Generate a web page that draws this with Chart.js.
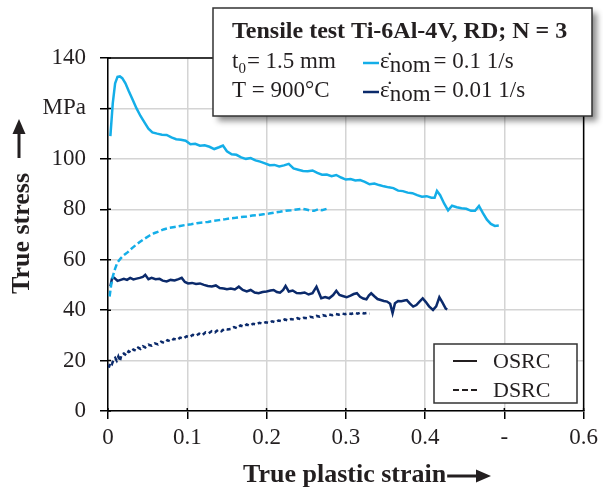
<!DOCTYPE html>
<html>
<head>
<meta charset="utf-8">
<script src="https://cdn.jsdelivr.net/npm/chart.js@4/dist/chart.umd.min.js"></script>
<style>
html,body{margin:0;padding:0;background:#fff;}
#c{display:block;}
</style>
</head>
<body>
<canvas id="c" width="603" height="490"></canvas>
<script>
// ---- data (strain, true stress MPa) ----
const xTickLabels = ['0', '0.1', '0.2', '0.3', '0.4', '-', '0.6'];
const yTickLabels = ['0', '20', '40', '60', '80', '100', 'MPa', '140'];

const fastOSRC = [[0.003,109],[0.006,122],[0.009,130],[0.012,132.5],[0.015,132.7],[0.018,132],[0.022,130],[0.026,127],[0.031,123.5],[0.036,120],[0.041,117],[0.046,114.5],[0.051,112],[0.056,110.5],[0.062,110],[0.068,109.6],[0.074,109.5],[0.080,108.5],[0.086,107.8],[0.092,107.6],[0.098,107.2],[0.104,105.8],[0.110,106],[0.116,105.2],[0.122,105.4],[0.128,104.8],[0.134,103.9],[0.140,104.6],[0.145,105.3],[0.150,103],[0.156,101.8],[0.162,101.6],[0.168,100.6],[0.174,100],[0.180,100.3],[0.186,99.4],[0.192,98.9],[0.198,98.2],[0.204,97.5],[0.210,97.6],[0.216,97],[0.222,97.4],[0.228,98],[0.234,96.2],[0.240,95.7],[0.246,95.2],[0.252,95.1],[0.258,95.4],[0.264,94.4],[0.270,93.7],[0.276,93.8],[0.282,93.1],[0.288,93.6],[0.294,92.6],[0.300,91.8],[0.306,92],[0.312,91.4],[0.318,91.6],[0.324,90.9],[0.330,89.9],[0.336,90.2],[0.342,89.6],[0.348,89.1],[0.354,88.7],[0.360,88.4],[0.366,87.4],[0.372,87.2],[0.378,86.6],[0.384,86.4],[0.390,85.6],[0.396,85],[0.402,85.2],[0.408,84.6],[0.412,84.6],[0.415,87.3],[0.419,85.6],[0.424,82.3],[0.429,79.6],[0.434,81.4],[0.440,80.8],[0.446,80.4],[0.452,80.2],[0.458,79.4],[0.463,79.4],[0.468,81.3],[0.473,78.5],[0.478,75.9],[0.483,74.2],[0.488,73.4],[0.493,73.6]];

const fastDSRC = [[0.002,45.4],[0.004,50],[0.006,53.3],[0.009,56.5],[0.012,59],[0.016,60.5],[0.020,61.8],[0.025,63],[0.030,64.5],[0.035,65.8],[0.040,67],[0.046,68.3],[0.052,69.5],[0.058,70.5],[0.064,71.2],[0.070,72],[0.077,72.6],[0.084,73],[0.091,73.4],[0.098,73.8],[0.105,74.1],[0.112,74.5],[0.119,74.8],[0.126,75],[0.133,75.4],[0.140,75.7],[0.147,76],[0.154,76.4],[0.161,76.6],[0.168,76.9],[0.175,77.1],[0.182,77.5],[0.189,77.7],[0.196,78],[0.203,78.3],[0.210,78.7],[0.217,79],[0.224,79.4],[0.231,79.6],[0.238,79.9],[0.245,80.2],[0.250,79.9],[0.255,79.5],[0.260,79.4],[0.265,80],[0.270,79.6],[0.276,80.2]];

const slowOSRC = [[0.003,49.5],[0.005,52.5],[0.008,52.8],[0.012,51.6],[0.016,52],[0.020,52.4],[0.024,52],[0.028,52.8],[0.032,52.2],[0.036,52.5],[0.040,52.8],[0.044,53.2],[0.047,54],[0.051,52.3],[0.055,52.8],[0.060,52.3],[0.065,52.4],[0.069,51.7],[0.074,51.4],[0.079,52],[0.084,51.8],[0.089,52.3],[0.093,52.8],[0.097,51.2],[0.101,50.6],[0.106,50.8],[0.111,50.4],[0.116,50.6],[0.121,50],[0.126,49.6],[0.131,49.4],[0.136,49.8],[0.141,48.8],[0.146,48.6],[0.150,48.3],[0.155,48.6],[0.160,48.2],[0.165,49.3],[0.170,48],[0.175,47.4],[0.180,48],[0.185,47],[0.190,46.7],[0.195,47.2],[0.200,47.4],[0.205,47.8],[0.209,48],[0.213,47.2],[0.217,46.9],[0.221,48],[0.224,49.6],[0.228,47.4],[0.233,47.8],[0.238,46.8],[0.243,46.7],[0.248,47],[0.253,46.2],[0.258,46.7],[0.263,49.3],[0.266,47],[0.269,44.7],[0.274,45.2],[0.279,44.7],[0.284,46],[0.288,47.7],[0.292,46],[0.296,45.6],[0.301,45.1],[0.306,45.8],[0.310,46.4],[0.314,46.7],[0.318,45.3],[0.322,44.6],[0.326,44.3],[0.329,45.8],[0.332,46.7],[0.336,45.5],[0.340,44.4],[0.344,44],[0.348,43.6],[0.352,43.4],[0.356,42.5],[0.359,38.8],[0.362,42.7],[0.366,43.6],[0.370,43.5],[0.374,43.8],[0.377,44],[0.381,42.6],[0.385,41.4],[0.389,42],[0.393,43.4],[0.397,44.7],[0.401,43.2],[0.405,41.5],[0.410,40.1],[0.414,41.5],[0.418,45.1],[0.422,43],[0.426,40.6],[0.428,40.3]];

const slowDSRC = [[0.001,17.2],[0.003,19.2],[0.005,18.6],[0.007,20.4],[0.009,21.1],[0.011,20],[0.013,21.6],[0.015,19.8],[0.017,22.3],[0.020,22.8],[0.023,22.1],[0.026,23.7],[0.029,23.2],[0.032,24.4],[0.035,23.9],[0.038,25.1],[0.041,24.6],[0.044,25.7],[0.047,25.2],[0.051,26.3],[0.055,25.9],[0.059,26.8],[0.063,26.4],[0.067,27.5],[0.071,27],[0.075,28.1],[0.079,27.6],[0.083,28.6],[0.087,28.2],[0.091,29.1],[0.095,28.7],[0.099,29.6],[0.103,29.3],[0.107,30.2],[0.111,29.8],[0.115,30.7],[0.119,30.1],[0.123,31.2],[0.127,30.8],[0.131,31.7],[0.135,31.2],[0.139,32.2],[0.143,31.6],[0.147,32.6],[0.151,32.3],[0.155,32.5],[0.159,33.3],[0.163,32.8],[0.167,33.9],[0.171,33.5],[0.175,34.3],[0.179,33.8],[0.183,34.6],[0.187,34.3],[0.191,35],[0.195,34.6],[0.199,35.2],[0.203,34.9],[0.207,35.6],[0.211,35.2],[0.215,35.9],[0.219,35.6],[0.223,36.3],[0.227,35.9],[0.231,36.5],[0.235,36.2],[0.239,36.8],[0.243,36.4],[0.247,37],[0.251,36.8],[0.255,37.4],[0.259,37.1],[0.263,37.7],[0.267,37.4],[0.271,38],[0.275,37.7],[0.279,38.3],[0.283,38],[0.287,38.5],[0.291,38.2],[0.295,38.7],[0.299,38.4],[0.303,38.8],[0.307,38.5],[0.311,39],[0.315,38.6],[0.319,39.1],[0.323,38.7],[0.327,38.9],[0.330,38.6]];

const LIGHT = '#14aee8';
const NAVY = '#0b2a6b';
const SERIF = '"Liberation Serif", "Times New Roman", serif';

function pts(arr){ return arr.map(p => ({x:p[0], y:p[1]})); }

const decor = {
  id: 'decor',
  afterDraw(chart){
    const ctx = chart.ctx;
    const a = chart.chartArea;
    ctx.save();
    // top & right border
    ctx.strokeStyle = '#000'; ctx.lineWidth = 1.5;
    ctx.beginPath();
    ctx.moveTo(a.left, a.top); ctx.lineTo(a.right, a.top); ctx.lineTo(a.right, a.bottom);
    ctx.stroke();

    // main info box with shadow
    ctx.save();
    ctx.shadowColor = 'rgba(0,0,0,0.45)';
    ctx.shadowBlur = 6; ctx.shadowOffsetX = 5; ctx.shadowOffsetY = 5;
    ctx.fillStyle = '#fff';
    ctx.fillRect(213, 8, 379, 108);
    ctx.restore();
    ctx.strokeStyle = '#333'; ctx.lineWidth = 1.5;
    ctx.strokeRect(213, 8, 379, 108);

    ctx.fillStyle = '#231f20';
    ctx.textBaseline = 'alphabetic'; ctx.textAlign = 'left';
    ctx.font = 'bold 24px ' + SERIF;
    ctx.fillText('Tensile test Ti-6Al-4V, RD; N = 3', 232, 38);

    ctx.font = '23px ' + SERIF;
    ctx.fillText('t', 232, 68);
    let w = ctx.measureText('t').width;
    ctx.font = '15px ' + SERIF;
    ctx.fillText('0', 232 + w, 73);
    let w2 = ctx.measureText('0').width;
    ctx.font = '23px ' + SERIF;
    ctx.fillText('= 1.5 mm', 232 + w + w2 + 1, 68);
    ctx.fillText('T = 900°C', 232, 97);

    function rateEntry(color, y, txt){
      ctx.strokeStyle = color; ctx.lineWidth = 2.5;
      ctx.beginPath(); ctx.moveTo(363, y - 5); ctx.lineTo(379, y - 5); ctx.stroke();
      ctx.fillStyle = '#231f20';
      ctx.font = '23px ' + SERIF;
      ctx.fillText('\u03B5\u0307', 380, y);
      let x = 380 + ctx.measureText('\u03B5').width;
      ctx.fillText('nom', x, y + 4);
      x += ctx.measureText('nom').width + 3;
      ctx.fillText(txt, x, y);
    }
    rateEntry(LIGHT, 68, '= 0.1 1/s');
    rateEntry(NAVY, 97, '= 0.01 1/s');

    // line-style legend
    ctx.fillStyle = '#fff';
    ctx.fillRect(434, 344, 143, 59);
    ctx.strokeStyle = '#333'; ctx.lineWidth = 1.5;
    ctx.strokeRect(434, 344, 143, 59);
    ctx.strokeStyle = '#231f20'; ctx.lineWidth = 2;
    ctx.beginPath(); ctx.moveTo(453, 361); ctx.lineTo(477, 361); ctx.stroke();
    ctx.setLineDash([6, 3]);
    ctx.beginPath(); ctx.moveTo(453, 390); ctx.lineTo(477, 390); ctx.stroke();
    ctx.setLineDash([]);
    ctx.fillStyle = '#231f20';
    ctx.font = '22px ' + SERIF;
    ctx.fillText('OSRC', 493, 368);
    ctx.fillText('DSRC', 493, 397);

    // axis titles
    ctx.font = 'bold 26px ' + SERIF;
    ctx.fillText('True plastic strain', 243, 482);
    let tw = ctx.measureText('True plastic strain').width;
    ctx.strokeStyle = '#231f20'; ctx.lineWidth = 3;
    ctx.beginPath(); ctx.moveTo(243 + tw + 1, 476); ctx.lineTo(478, 476); ctx.stroke();
    ctx.beginPath(); ctx.moveTo(491, 476); ctx.lineTo(476, 469.5); ctx.lineTo(476, 482.5); ctx.closePath(); ctx.fill();

    ctx.save();
    ctx.translate(29, 294);
    ctx.rotate(-Math.PI / 2);
    ctx.fillText('True stress', 0, 0);
    ctx.restore();
    ctx.beginPath(); ctx.moveTo(19, 158); ctx.lineTo(19, 132); ctx.stroke();
    ctx.beginPath(); ctx.moveTo(19, 119); ctx.lineTo(12.5, 134); ctx.lineTo(25.5, 134); ctx.closePath(); ctx.fill();

    // tick marks crossing into the plot
    ctx.strokeStyle = '#000'; ctx.lineWidth = 1.5;
    const xs = chart.scales.x, ys = chart.scales.y;
    ctx.beginPath();
    xs.ticks.forEach(t => { const px = xs.getPixelForValue(t.value); ctx.moveTo(px, a.bottom); ctx.lineTo(px, a.bottom - 3); });
    ys.ticks.forEach(t => { const py = ys.getPixelForValue(t.value); ctx.moveTo(a.left, py); ctx.lineTo(a.left + 3, py); });
    ctx.stroke();
    ctx.restore();
  }
};

new Chart(document.getElementById('c'), {
  type: 'line',
  data: {
    datasets: [
      {label: 'OSRC 0.1', data: pts(fastOSRC), borderColor: LIGHT, borderWidth: 2.5},
      {label: 'DSRC 0.1', data: pts(fastDSRC), borderColor: LIGHT, borderWidth: 2.5, borderDash: [6, 3]},
      {label: 'OSRC 0.01', data: pts(slowOSRC), borderColor: NAVY, borderWidth: 2.5},
      {label: 'DSRC 0.01', data: pts(slowDSRC), borderColor: NAVY, borderWidth: 2.5, borderDash: [4, 3]}
    ]
  },
  options: {
    responsive: false,
    animation: false,
    devicePixelRatio: 1,
    layout: {padding: {top: 58, right: 19, left: 0, bottom: 0}},
    elements: {point: {radius: 0}, line: {tension: 0, fill: false}},
    plugins: {legend: {display: false}, tooltip: {enabled: false}},
    scales: {
      x: {
        type: 'linear', min: 0, max: 0.6,
        afterFit: s => { s.height = 79; },
        ticks: {stepSize: 0.1, padding: 5, color: '#231f20', font: {family: SERIF, size: 23},
          maxRotation: 0, autoSkip: false,
          callback: v => xTickLabels[Math.round(v * 10)]},
        grid: {color: '#d4d4d4', lineWidth: 1.5, tickColor: '#000', tickLength: 8},
        border: {color: '#000', width: 1.5}
      },
      y: {
        type: 'linear', min: 0, max: 140,
        afterFit: s => { s.width = 108; },
        ticks: {stepSize: 20, padding: 14, color: '#231f20', font: {family: SERIF, size: 23},
          autoSkip: false,
          callback: v => yTickLabels[Math.round(v / 20)]},
        grid: {color: '#d4d4d4', lineWidth: 1.5, tickColor: '#000', tickLength: 8},
        border: {color: '#000', width: 1.5}
      }
    }
  },
  plugins: [decor]
});
</script>
</body>
</html>
